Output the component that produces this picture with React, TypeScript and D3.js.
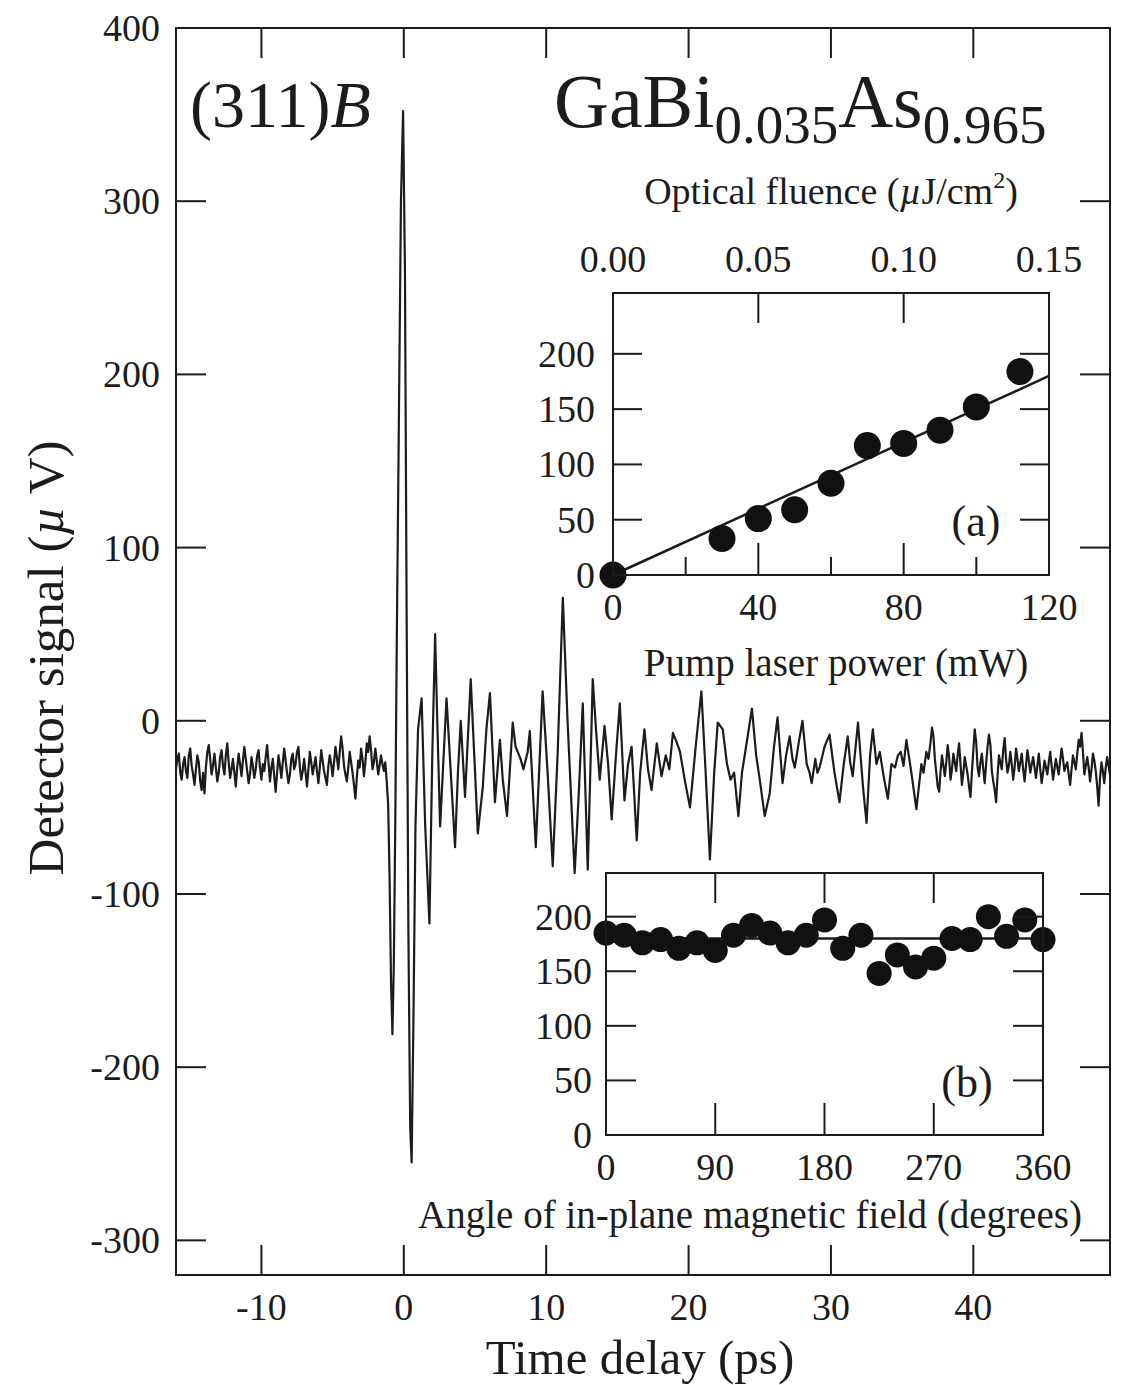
import React from 'react';
import * as d3 from 'd3';

// ---------- Main waveform: [time delay (ps), detector signal (µV)] ----------
const waveform: [number, number][] = [
  [-16.0, -28], [-15.9, -22], [-15.8, -19], [-15.7, -30], [-15.6, -34], [-15.5, -25], [-15.4, -21], [-15.3, -29],
  [-15.2, -33], [-15.1, -20], [-15.0, -16], [-14.9, -26], [-14.8, -31], [-14.7, -37], [-14.6, -28], [-14.5, -20],
  [-14.4, -24], [-14.3, -35], [-14.2, -40], [-14.1, -30], [-14.0, -42], [-13.9, -27], [-13.8, -18], [-13.7, -14],
  [-13.6, -22], [-13.5, -31], [-13.4, -26], [-13.3, -19], [-13.2, -27], [-13.1, -35], [-13.0, -30], [-12.9, -21],
  [-12.8, -17], [-12.7, -26], [-12.6, -31], [-12.5, -20], [-12.4, -13], [-12.3, -24], [-12.2, -33], [-12.1, -28],
  [-12.0, -22], [-11.9, -30], [-11.8, -38], [-11.7, -27], [-11.6, -19], [-11.5, -25], [-11.4, -32], [-11.3, -23],
  [-11.2, -15], [-11.1, -22], [-11.0, -29], [-10.9, -36], [-10.8, -31], [-10.7, -21], [-10.6, -26], [-10.5, -33],
  [-10.4, -28], [-10.3, -20], [-10.2, -17], [-10.1, -27], [-10.0, -34], [-9.9, -25], [-9.8, -29], [-9.7, -21],
  [-9.6, -14], [-9.5, -24], [-9.4, -35], [-9.3, -27], [-9.2, -22], [-9.1, -32], [-9.0, -41], [-8.9, -30],
  [-8.8, -20], [-8.7, -26], [-8.6, -33], [-8.5, -24], [-8.4, -16], [-8.3, -23], [-8.2, -30], [-8.1, -36],
  [-8.0, -31], [-7.9, -22], [-7.8, -19], [-7.7, -28], [-7.6, -25], [-7.5, -18], [-7.4, -15], [-7.3, -27],
  [-7.2, -34], [-7.1, -29], [-7.0, -22], [-6.9, -30], [-6.8, -38], [-6.7, -28], [-6.6, -18], [-6.5, -24],
  [-6.4, -31], [-6.3, -26], [-6.2, -21], [-6.1, -29], [-6.0, -36], [-5.9, -27], [-5.8, -17], [-5.7, -23],
  [-5.6, -29], [-5.5, -33], [-5.4, -37], [-5.3, -26], [-5.2, -20], [-5.1, -25], [-5.0, -32], [-4.9, -24],
  [-4.8, -15], [-4.7, -21], [-4.6, -28], [-4.5, -18], [-4.4, -9], [-4.3, -16], [-4.2, -26], [-4.1, -31],
  [-4.0, -35], [-3.9, -27], [-3.8, -18], [-3.7, -24], [-3.6, -30], [-3.5, -37], [-3.4, -45], [-3.3, -33],
  [-3.2, -23], [-3.1, -27], [-3.0, -16], [-2.9, -22], [-2.8, -32], [-2.7, -24], [-2.6, -13], [-2.5, -18],
  [-2.4, -9], [-2.3, -17], [-2.2, -28], [-2.1, -24], [-2.0, -16], [-1.9, -23], [-1.8, -31], [-1.7, -26],
  [-1.6, -20], [-1.5, -25], [-1.4, -29], [-1.3, -24],
  [-1.2, -35], [-1.1, -48], [-1.0, -90], [-0.9, -150], [-0.8, -181], [-0.7, -140], [-0.6, -60], [-0.5, 40],
  [-0.35, 170], [-0.2, 300], [-0.05, 352], [0.08, 260], [0.2, 60], [0.32, -120], [0.45, -235], [0.55, -255],
  [0.68, -170], [0.82, -60], [1.0, -5], [1.25, 13], [1.5, -60], [1.8, -117], [2.0, -20], [2.2, 50],
  [2.35, 0], [2.55, -61], [2.8, -20], [3.0, 13], [3.3, -30], [3.6, -73], [3.8, -30], [4.0, 0],
  [4.3, -44], [4.7, 24], [4.95, -20], [5.2, -65], [5.55, -38], [5.8, -5], [6.05, 16], [6.4, -47],
  [6.75, -11], [6.95, -34], [7.25, -55], [7.65, -1], [7.85, -15], [8.0, -18], [8.2, -22], [8.4, -28],
  [8.7, -18], [8.85, -6], [9.27, -73], [9.75, 17], [10.1, -30], [10.46, -84], [10.8, -20], [11.17, 71],
  [11.5, 0], [12.0, -88], [12.3, -40], [12.57, 10], [12.92, -86], [13.27, 24], [13.5, -5], [13.76, -34],
  [14.1, -3], [14.35, -25], [14.6, -57], [14.9, -20], [15.17, 10], [15.5, -46], [15.75, -25], [16.0, -15],
  [16.36, -69], [16.6, -30], [16.9, -5], [17.15, -28], [17.4, -40], [17.77, -13], [18.1, -32], [18.4, -20],
  [18.65, -28], [18.9, -7], [19.15, -12], [19.4, -18], [19.75, -35], [20.1, -50], [20.5, -15], [20.9, 17],
  [21.2, -30], [21.5, -80], [21.8, -30], [22.05, -1], [22.4, -5], [22.7, -25], [22.95, -34], [23.2, -30],
  [23.5, -55], [23.75, -30], [24.0, -17], [24.45, 7], [24.75, -20], [25.0, -34], [25.35, -55], [25.7, -42],
  [26.0, -15], [26.25, 2], [26.6, -36], [26.85, -20], [27.1, -9], [27.3, -22], [27.46, -27], [27.75, -12],
  [28.0, 0], [28.3, -25], [28.5, -30], [28.65, -36], [28.9, -22], [29.05, -30], [29.2, -27], [29.55, -15],
  [29.9, -8], [30.25, -30], [30.6, -47], [30.9, -25], [31.18, -9], [31.35, -24], [31.53, -32], [31.9, -1],
  [32.25, -38], [32.5, -59], [32.75, -20], [32.94, -5], [33.2, -25], [33.43, -18], [33.7, -32], [34.0, -45],
  [34.25, -25], [34.5, -27], [34.7, -20], [34.9, -18], [35.1, -26], [35.3, -11], [35.65, -30], [36.0, -51],
  [36.35, -25], [36.5, -30], [36.7, -18], [36.85, -22],
  [37.0, -12], [37.1, -4], [37.2, -9], [37.3, -22], [37.4, -30], [37.5, -38], [37.6, -41], [37.7, -29],
  [37.8, -20], [37.9, -26], [38.0, -32], [38.1, -24], [38.2, -14], [38.3, -21], [38.4, -34], [38.5, -28],
  [38.6, -19], [38.7, -24], [38.8, -29], [38.9, -20], [39.0, -13], [39.1, -25], [39.2, -37], [39.3, -30],
  [39.4, -21], [39.5, -26], [39.6, -31], [39.7, -38], [39.8, -44], [39.9, -30], [40.0, -17], [40.1, -5],
  [40.2, -12], [40.3, -27], [40.4, -32], [40.5, -24], [40.6, -19], [40.7, -28], [40.8, -36], [40.9, -25],
  [41.0, -15], [41.1, -8], [41.2, -14], [41.3, -29], [41.4, -35], [41.5, -40], [41.6, -47], [41.7, -32],
  [41.8, -20], [41.9, -24], [42.0, -28], [42.1, -17], [42.2, -10], [42.3, -22], [42.4, -30], [42.5, -26],
  [42.6, -18], [42.7, -25], [42.8, -34], [42.9, -27], [43.0, -16], [43.1, -22], [43.2, -29], [43.3, -24],
  [43.4, -19], [43.5, -28], [43.6, -35], [43.7, -26], [43.8, -17], [43.9, -23], [44.0, -30], [44.1, -25],
  [44.2, -21], [44.3, -27], [44.4, -33], [44.5, -26], [44.6, -19], [44.7, -28], [44.8, -36], [44.9, -30],
  [45.0, -23], [45.1, -27], [45.2, -31], [45.3, -24], [45.4, -18], [45.5, -26], [45.6, -34], [45.7, -28],
  [45.8, -22], [45.9, -27], [46.0, -31], [46.1, -23], [46.2, -16], [46.3, -22], [46.4, -29], [46.5, -26],
  [46.6, -24], [46.7, -31], [46.8, -37], [46.9, -28], [47.0, -20], [47.1, -24], [47.2, -28], [47.3, -19],
  [47.4, -11], [47.5, -15], [47.6, -7], [47.7, -18], [47.8, -31], [47.9, -26], [48.0, -21], [48.1, -27],
  [48.2, -35], [48.3, -28], [48.4, -19], [48.5, -23], [48.6, -29], [48.7, -38], [48.8, -49], [48.9, -33],
  [49.0, -24], [49.1, -29], [49.2, -36], [49.3, -27], [49.4, -21], [49.5, -26], [49.6, -31],
];

// ---------- Inset (a) ----------
const powerMW = [0, 30, 40, 50, 60, 70, 80, 90, 100, 112];
const amplitudeA = [0, 33, 51, 59, 83, 117, 119, 131, 152, 184];
const fitA: [number, number][] = [[0, 0], [120, 180]];

// ---------- Inset (b) ----------
const angleDeg = [0, 15, 30, 45, 60, 75, 90, 105, 120, 135, 150, 165, 180, 195, 210, 225, 240, 255, 270, 285, 300, 315, 330, 345, 360];
const amplitudeB = [185, 183, 176, 179, 171, 176, 169, 183, 192, 185, 176, 183, 197, 171, 183, 148, 165, 154, 162, 180, 179, 200, 182, 197, 179];
const fitB: [number, number][] = [[0, 180], [360, 180]];

// ---------- Ticks ----------
const mainXTicks = [-10, 0, 10, 20, 30, 40];
const mainYTicks = [-300, -200, -100, 0, 100, 200, 300, 400];
const aXMajor = [40, 80];
const aXMinor = [20, 60, 100];
const aXLabels = [0, 40, 80, 120];
const aYTicks = [50, 100, 150, 200];
const aYLabels = [0, 50, 100, 150, 200];
const aTopTicks = [0.05, 0.1];
const aTopLabels = ['0.00', '0.05', '0.10', '0.15'];
const bXTicks = [90, 180, 270];
const bXLabels = [0, 90, 180, 270, 360];
const bYTicks = [50, 100, 150, 200];
const bYLabels = [0, 50, 100, 150, 200];

const FONT = "'Liberation Serif', 'Times New Roman', serif";
const INK = '#1c1c1c';

export default function App() {
  const x = d3.scaleLinear().domain([-16, 49.6]).range([176, 1110]);
  const y = d3.scaleLinear().domain([-320, 400]).range([1275, 28]);

  const xa = d3.scaleLinear().domain([0, 120]).range([613, 1049]);
  const ya = d3.scaleLinear().domain([0, 255]).range([575, 293]);
  const xf = d3.scaleLinear().domain([0, 0.15]).range([613, 1049]);

  const xb = d3.scaleLinear().domain([0, 360]).range([606, 1043]);
  const yb = d3.scaleLinear().domain([0, 240]).range([1135, 873]);

  const line = d3.line<[number, number]>().x((d) => x(d[0])).y((d) => y(d[1]));
  const lineA = d3.line<[number, number]>().x((d) => xa(d[0])).y((d) => ya(d[1]));
  const lineB = d3.line<[number, number]>().x((d) => xb(d[0])).y((d) => yb(d[1]));

  const [x0, x1] = x.range();
  const [yBot, yTop] = y.range();
  const tk = 30;
  const tickFs = 38;

  return (
    <svg width={1123} height={1385} style={{ position: 'absolute', left: 0, top: 0, background: '#fff' }} fontFamily={FONT}>
      <rect x={0} y={0} width={1123} height={1385} fill="#fff" />

      {/* waveform */}
      <path d={line(waveform) || ''} fill="none" stroke={INK} strokeWidth={2.2} strokeLinejoin="round" />

      {/* main frame */}
      <rect x={x0} y={yTop} width={x1 - x0} height={yBot - yTop} fill="none" stroke={INK} strokeWidth={2} />
      {mainXTicks.map((t) => (
        <g key={'mx' + t}>
          <line x1={x(t)} x2={x(t)} y1={yBot} y2={yBot - tk} stroke={INK} strokeWidth={2} />
          <line x1={x(t)} x2={x(t)} y1={yTop} y2={yTop + tk} stroke={INK} strokeWidth={2} />
          <text x={x(t)} y={1320} fontSize={tickFs} textAnchor="middle" fill={INK}>{t}</text>
        </g>
      ))}
      {mainYTicks.map((v) => (
        <g key={'my' + v}>
          {v < 400 && (
            <>
              <line x1={x0} x2={x0 + tk} y1={y(v)} y2={y(v)} stroke={INK} strokeWidth={2} />
              <line x1={x1} x2={x1 - tk} y1={y(v)} y2={y(v)} stroke={INK} strokeWidth={2} />
            </>
          )}
          <text x={160} y={y(v) + 13} fontSize={tickFs} textAnchor="end" fill={INK}>{v}</text>
        </g>
      ))}
      <text x={640} y={1374} fontSize={49} textAnchor="middle" fill={INK}>Time delay (ps)</text>
      <text transform="translate(63,658) rotate(-90)" fontSize={51} textAnchor="middle" fill={INK}>
        Detector signal (<tspan fontStyle="italic">µ</tspan> V)
      </text>

      {/* labels */}
      <text x={190} y={127} fontSize={66} fill={INK}>
        (311)<tspan fontStyle="italic">B</tspan>
      </text>
      <text x={554} y={127} fontSize={76} fill={INK}>
        GaBi<tspan fontSize={55} dy={16}>0.035</tspan><tspan fontSize={76} dy={-16}>As</tspan><tspan fontSize={55} dy={16}>0.965</tspan>
      </text>

      {/* ---------- inset (a) ---------- */}
      <path d={lineA(fitA) || ''} fill="none" stroke={INK} strokeWidth={2.5} />
      {powerMW.map((p, i) => (
        <circle key={'pa' + i} cx={xa(p)} cy={ya(amplitudeA[i])} r={13.5} fill="#111" />
      ))}
      <rect x={613} y={293} width={436} height={282} fill="none" stroke={INK} strokeWidth={2} />
      {aXMajor.map((t) => (
        <line key={'axM' + t} x1={xa(t)} x2={xa(t)} y1={575} y2={575 - 32} stroke={INK} strokeWidth={2} />
      ))}
      {aXMinor.map((t) => (
        <line key={'axm' + t} x1={xa(t)} x2={xa(t)} y1={575} y2={575 - 18} stroke={INK} strokeWidth={2} />
      ))}
      {aTopTicks.map((t) => (
        <line key={'axt' + t} x1={xf(t)} x2={xf(t)} y1={293} y2={293 + 30} stroke={INK} strokeWidth={2} />
      ))}
      {aXLabels.map((t) => (
        <text key={'axl' + t} x={xa(t)} y={620} fontSize={tickFs} textAnchor="middle" fill={INK}>{t}</text>
      ))}
      {aTopLabels.map((s) => (
        <text key={'atl' + s} x={xf(+s)} y={272} fontSize={tickFs} textAnchor="middle" fill={INK}>{s}</text>
      ))}
      {aYTicks.map((v) => (
        <g key={'ayt' + v}>
          <line x1={613} x2={613 + 29} y1={ya(v)} y2={ya(v)} stroke={INK} strokeWidth={2} />
          <line x1={1049} x2={1049 - 29} y1={ya(v)} y2={ya(v)} stroke={INK} strokeWidth={2} />
        </g>
      ))}
      {aYLabels.map((v) => (
        <text key={'ayl' + v} x={595} y={ya(v) + 13} fontSize={tickFs} textAnchor="end" fill={INK}>{v}</text>
      ))}
      <text x={831} y={204} fontSize={38} textAnchor="middle" fill={INK}>
        Optical fluence (<tspan fontStyle="italic">µ</tspan>J/cm<tspan fontSize={24} dy={-16}>2</tspan><tspan dy={16}>)</tspan>
      </text>
      <text x={836} y={676} fontSize={39} textAnchor="middle" fill={INK}>Pump laser power (mW)</text>
      <text x={976} y={536} fontSize={44} textAnchor="middle" fill={INK}>(a)</text>

      {/* ---------- inset (b) ---------- */}
      <path d={lineB(fitB) || ''} fill="none" stroke={INK} strokeWidth={2.5} />
      {angleDeg.map((a, i) => (
        <circle key={'pb' + i} cx={xb(a)} cy={yb(amplitudeB[i])} r={12.5} fill="#111" />
      ))}
      <rect x={606} y={873} width={437} height={262} fill="none" stroke={INK} strokeWidth={2} />
      {bXTicks.map((t) => (
        <g key={'bxt' + t}>
          <line x1={xb(t)} x2={xb(t)} y1={1135} y2={1135 - 32} stroke={INK} strokeWidth={2} />
          <line x1={xb(t)} x2={xb(t)} y1={873} y2={873 + 30} stroke={INK} strokeWidth={2} />
        </g>
      ))}
      {bXLabels.map((t) => (
        <text key={'bxl' + t} x={xb(t)} y={1180} fontSize={tickFs} textAnchor="middle" fill={INK}>{t}</text>
      ))}
      {bYTicks.map((v) => (
        <g key={'byt' + v}>
          <line x1={606} x2={606 + 30} y1={yb(v)} y2={yb(v)} stroke={INK} strokeWidth={2} />
          <line x1={1043} x2={1043 - 30} y1={yb(v)} y2={yb(v)} stroke={INK} strokeWidth={2} />
        </g>
      ))}
      {bYLabels.map((v) => (
        <text key={'byl' + v} x={592} y={yb(v) + 13} fontSize={tickFs} textAnchor="end" fill={INK}>{v}</text>
      ))}
      <text x={750} y={1228} fontSize={39} textAnchor="middle" fill={INK}>Angle of in-plane magnetic field (degrees)</text>
      <text x={967} y={1097} fontSize={44} textAnchor="middle" fill={INK}>(b)</text>
    </svg>
  );
}
